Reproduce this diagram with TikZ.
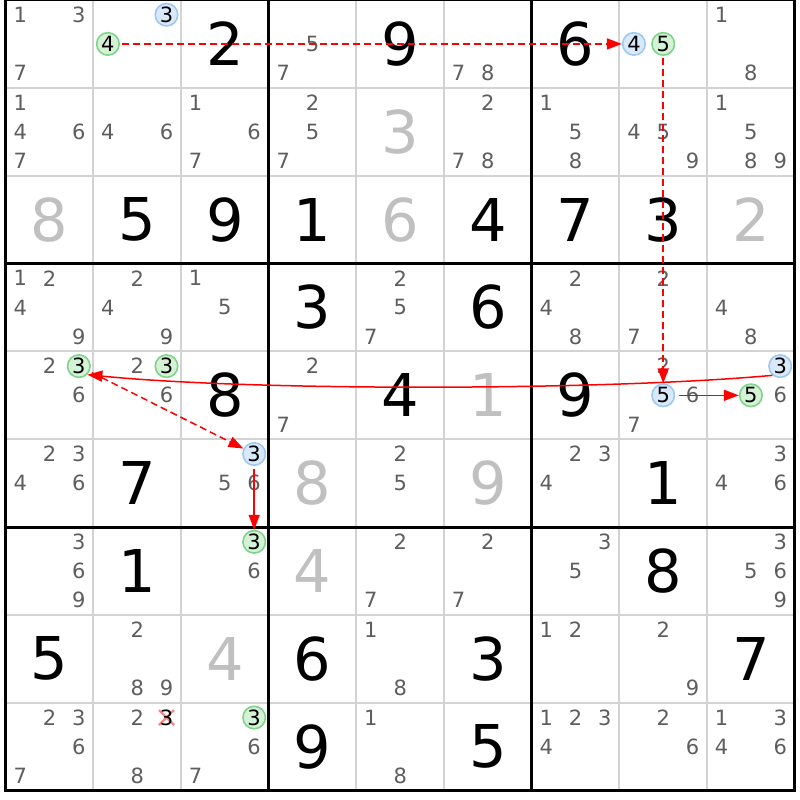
\documentclass[tikz,border=0pt]{standalone}
\usepackage{fontspec}
\setmainfont{DejaVu Sans}
\usetikzlibrary{arrows.meta}
\definecolor{candc}{HTML}{5E5E5E}
\definecolor{givc}{HTML}{C0C0C0}
\definecolor{thinc}{HTML}{D3D3D3}
\definecolor{gfill}{HTML}{D6F2D6}
\definecolor{gline}{HTML}{7FD38A}
\definecolor{bfill}{HTML}{D9E9FA}
\definecolor{bline}{HTML}{9DC8F2}
\definecolor{xc}{HTML}{F08A8A}
\newcommand\placecands[3]{%
  \foreach \d in {#3}{%
    \pgfmathsetmacro\px{5.7+(#2-0.5)*87.67+(mod(\d-1,3)-1)*29.3}%
    \pgfmathsetmacro\py{(#1-0.5)*87.85+(floor((\d-1)/3)-1)*29.2}%
    \node[cand] (k#1#2d\d) at (\px,\py) {\d};}}
\newcommand\bigdig[4]{%
  \pgfmathsetmacro\px{5.7+(#2-0.5)*87.67}%
  \pgfmathsetmacro\py{(#1-0.5)*87.85}%
  \node[#4] (v#1#2) at (\px,\py) {#3};}
\newcommand\circdig[5]{%
  \pgfmathsetmacro\px{5.7+(#3-0.5)*87.67+(mod(#4-1,3)-1)*29.3}%
  \pgfmathsetmacro\py{(#2-0.5)*87.85+(floor((#4-1)/3)-1)*29.2}%
  \node[#5] (#1) at (\px,\py) {#4};}
\tikzset{
  cand/.style={text=candc, font=\fontsize{21}{21}\selectfont, inner sep=0pt},
  given/.style={text=givc, font=\fontsize{59}{59}\selectfont, inner sep=0pt},
  solved/.style={text=black, font=\fontsize{59}{59}\selectfont, inner sep=0pt},
  gcirc/.style={circle, draw=gline, fill=gfill, line width=1.6pt, minimum size=22.5pt, inner sep=0pt, font=\fontsize{21}{21}\selectfont, text=black},
  bcirc/.style={circle, draw=bline, fill=bfill, line width=1.6pt, minimum size=22.5pt, inner sep=0pt, font=\fontsize{21}{21}\selectfont, text=black},
  thinline/.style={draw=thinc, line width=2pt},
  thickline/.style={draw=black, line width=3pt},
  link/.style={draw=red, line width=1.5pt, -{Triangle[length=15pt,width=11pt]}, shorten <=2.5pt},
  weaklink/.style={link, dash pattern=on 7pt off 4pt},
  crossmark/.style={draw=xc, line width=2.2pt},
}
\begin{document}
\begin{tikzpicture}[x=1pt,y=-1pt]
\useasboundingbox (0,0) rectangle (800,800);
\fill[white] (0,0) rectangle (800,800);
% grid
\foreach \i in {1,2,4,5,7,8}{
  \draw[thinline] ({5.7+\i*87.67},0) -- ({5.7+\i*87.67},790.65);
  \draw[thinline] (5.7,{\i*87.85}) -- (794.73,{\i*87.85});
}
\foreach \i in {3,6}{
  \draw[thickline] ({5.7+\i*87.67},0) -- ({5.7+\i*87.67},790.65);
  \draw[thickline] (5.7,{\i*87.85}) -- (794.73,{\i*87.85});
}
\draw[thickline, line join=miter] (5.7,0) rectangle (794.73,790.65);
% row 1
\placecands{1}{1}{1,3,7}
\bigdig{1}{3}{2}{solved}
\placecands{1}{4}{5,7}
\bigdig{1}{5}{9}{solved}
\placecands{1}{6}{7,8}
\bigdig{1}{7}{6}{solved}
\placecands{1}{9}{1,8}
% row 2
\placecands{2}{1}{1,4,6,7}
\placecands{2}{2}{4,6}
\placecands{2}{3}{1,6,7}
\placecands{2}{4}{2,5,7}
\bigdig{2}{5}{3}{given}
\placecands{2}{6}{2,7,8}
\placecands{2}{7}{1,5,8}
\placecands{2}{8}{4,5,9}
\placecands{2}{9}{1,5,8,9}
% row 3
\bigdig{3}{1}{8}{given}
\bigdig{3}{2}{5}{solved}
\bigdig{3}{3}{9}{solved}
\bigdig{3}{4}{1}{solved}
\bigdig{3}{5}{6}{given}
\bigdig{3}{6}{4}{solved}
\bigdig{3}{7}{7}{solved}
\bigdig{3}{8}{3}{solved}
\bigdig{3}{9}{2}{given}
% row 4
\placecands{4}{1}{1,2,4,9}
\placecands{4}{2}{2,4,9}
\placecands{4}{3}{1,5}
\bigdig{4}{4}{3}{solved}
\placecands{4}{5}{2,5,7}
\bigdig{4}{6}{6}{solved}
\placecands{4}{7}{2,4,8}
\placecands{4}{8}{2,7}
\placecands{4}{9}{4,8}
% row 5
\placecands{5}{1}{2,6}
\placecands{5}{2}{2,6}
\bigdig{5}{3}{8}{solved}
\placecands{5}{4}{2,7}
\bigdig{5}{5}{4}{solved}
\bigdig{5}{6}{1}{given}
\bigdig{5}{7}{9}{solved}
\placecands{5}{8}{2,6,7}
\placecands{5}{9}{6}
% row 6
\placecands{6}{1}{2,3,4,6}
\bigdig{6}{2}{7}{solved}
\placecands{6}{3}{5,6}
\bigdig{6}{4}{8}{given}
\placecands{6}{5}{2,5}
\bigdig{6}{6}{9}{given}
\placecands{6}{7}{2,3,4}
\bigdig{6}{8}{1}{solved}
\placecands{6}{9}{3,4,6}
% row 7
\placecands{7}{1}{3,6,9}
\bigdig{7}{2}{1}{solved}
\placecands{7}{3}{6}
\bigdig{7}{4}{4}{given}
\placecands{7}{5}{2,7}
\placecands{7}{6}{2,7}
\placecands{7}{7}{3,5}
\bigdig{7}{8}{8}{solved}
\placecands{7}{9}{3,5,6,9}
% row 8
\bigdig{8}{1}{5}{solved}
\placecands{8}{2}{2,8,9}
\bigdig{8}{3}{4}{given}
\bigdig{8}{4}{6}{solved}
\placecands{8}{5}{1,8}
\bigdig{8}{6}{3}{solved}
\placecands{8}{7}{1,2}
\placecands{8}{8}{2,9}
\bigdig{8}{9}{7}{solved}
% row 9
\placecands{9}{1}{2,3,6,7}
\placecands{9}{2}{2,8}
\placecands{9}{3}{6,7}
\bigdig{9}{4}{9}{solved}
\placecands{9}{5}{1,8}
\bigdig{9}{6}{5}{solved}
\placecands{9}{7}{1,2,3,4}
\placecands{9}{8}{2,6}
\placecands{9}{9}{1,3,4,6}
% eliminated candidate
\coordinate (xa) at (159,710);
\coordinate (xb) at (174,725);
\coordinate (xc1) at (159,725);
\coordinate (xd) at (174,710);
\draw[crossmark] (xa) -- (xb);
\draw[crossmark] (xc1) -- (xd);
\node[cand, text=black] (del92) at (166.5,717.5) {3};
% circled candidates
\circdig{b12}{1}{2}{3}{bcirc}
\circdig{g12}{1}{2}{4}{gcirc}
\circdig{b18}{1}{8}{4}{bcirc}
\circdig{g18}{1}{8}{5}{gcirc}
\circdig{g51}{5}{1}{3}{gcirc}
\circdig{g52}{5}{2}{3}{gcirc}
\circdig{b58}{5}{8}{5}{bcirc}
\circdig{b59}{5}{9}{3}{bcirc}
\circdig{g59}{5}{9}{5}{gcirc}
\circdig{b63}{6}{3}{3}{bcirc}
\circdig{g73}{7}{3}{3}{gcirc}
\circdig{g93}{9}{3}{3}{gcirc}
% links
\draw[weaklink] (g12) -- (b18);
\draw[weaklink] (g18) -- (b58);
\draw[link, shorten <=3.5pt] (b58) -- (g59);
\draw[link, shorten <=0pt] (b59.-130) .. controls (600,391) and (250,391) .. (g51.-45);
\draw[weaklink] (g51) -- (b63);
\draw[link] (b63) -- (g73);
\end{tikzpicture}
\end{document}
